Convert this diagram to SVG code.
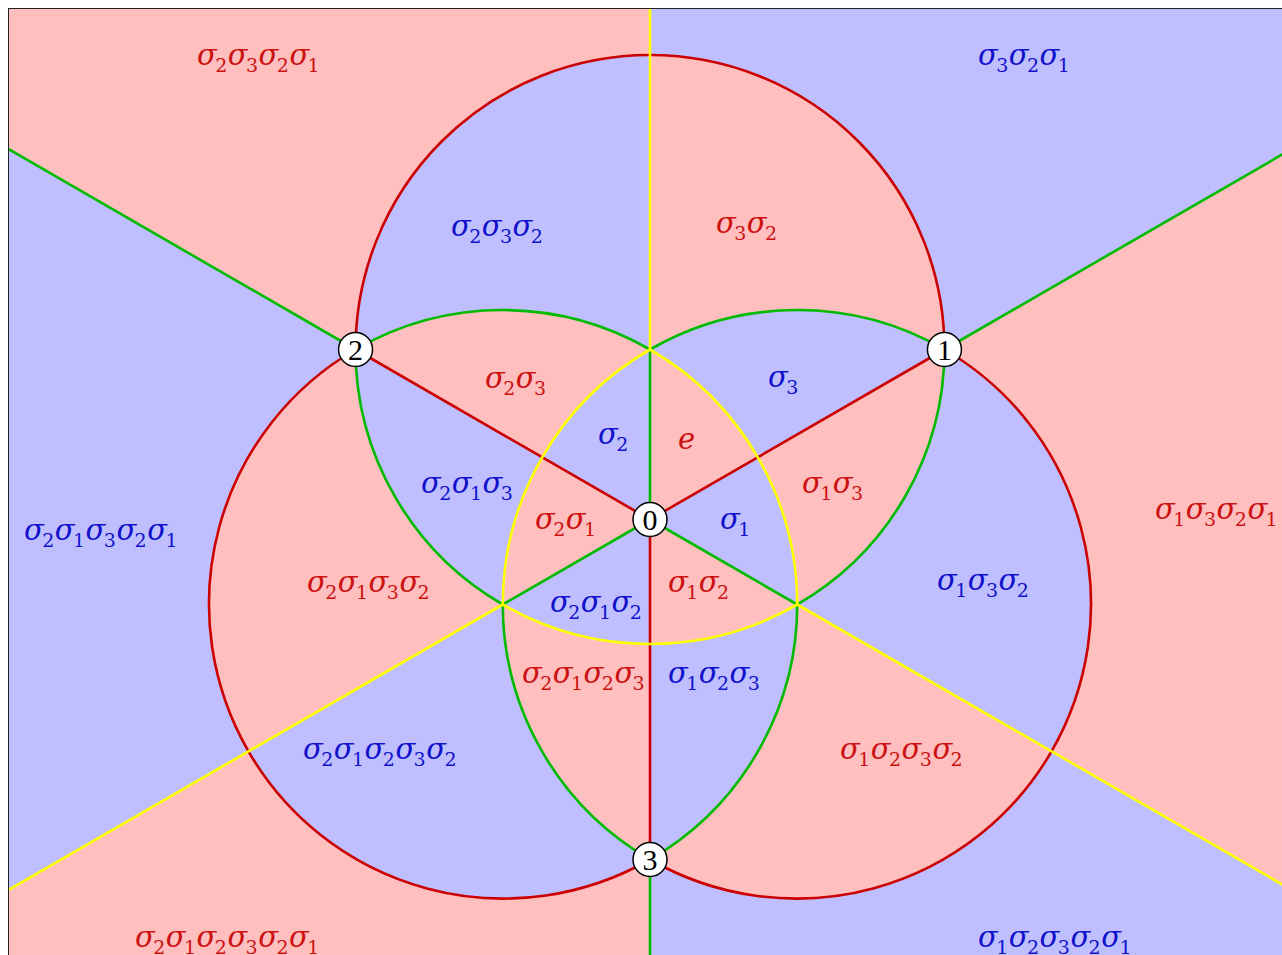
<svg xmlns="http://www.w3.org/2000/svg" width="1282" height="955" viewBox="0 0 1282 955">
<style>
.edge{fill:none;stroke-width:2.6;stroke-linecap:butt}
.red{stroke:#CC0000}.grn{stroke:#00BB00}.yel{stroke:#FFFF00}
.vc{fill:#FFFFFF;stroke:#000000;stroke-width:1.5}
.vt{font-family:"Liberation Serif",serif;font-size:30px;text-anchor:middle;fill:#000000}
.lr{fill:#CC1111}.lb{fill:#1111CC}
.lbl{font-family:"DejaVu Serif",serif;font-size:29px;font-style:italic}
.d{font-family:"DejaVu Serif",serif;font-size:19px;font-style:normal}
</style>
<defs>
<clipPath id="frame"><rect x="8" y="8.5" width="1280" height="950"/></clipPath>
</defs>
<rect x="0" y="0" width="1282" height="955" fill="#FFFFFF"/>
<g id="regions" clip-path="url(#frame)">
<rect x="0" y="0" width="1300" height="1000" fill="#BFBFFF"/>
<path fill="#FFBFBF" fill-rule="evenodd" d="M355.55 349.5a294.45 294.45 0 1 0 588.9 0a294.45 294.45 0 1 0 -588.9 0Z M208.33 604.5a294.45 294.45 0 1 0 588.9 0a294.45 294.45 0 1 0 -588.9 0Z M502.77 604.5a294.45 294.45 0 1 0 588.9 0a294.45 294.45 0 1 0 -588.9 0Z M2382 -480.5L3382 1251.5L-82 3251.5L-1082 1519.5Z M-1082 -480.5L2382 1519.5L1382 3251.5L-2082 1251.5Z M-100 -100L650 -100L650 1100L-100 1100Z"/>
</g>
<g id="connectors" clip-path="url(#frame)">
<path class="edge red" d="M355.55 349.5A294.45 294.45 0 0 1 944.45 349.5"/>
<path class="edge red" d="M650 859.5A294.45 294.45 0 0 1 355.55 349.5"/>
<path class="edge red" d="M944.45 349.5A294.45 294.45 0 0 1 650 859.5"/>
<path class="edge red" d="M650 519.5L944.45 349.5M650 519.5L355.55 349.5M650 519.5L650 859.5"/>
<path class="edge grn" d="M944.45 349.5A294.45 294.45 0 0 1 797.22 604.5"/>
<path class="edge grn" d="M502.78 604.5A294.45 294.45 0 0 1 355.55 349.5"/>
<path class="edge grn" d="M355.55 349.5A294.45 294.45 0 0 1 650 349.5"/>
<path class="edge grn" d="M797.22 604.5A294.45 294.45 0 0 1 650 859.5"/>
<path class="edge grn" d="M650 349.5A294.45 294.45 0 0 1 944.45 349.5"/>
<path class="edge grn" d="M650 859.5A294.45 294.45 0 0 1 502.78 604.5"/>
<path class="edge grn" d="M650 349.5L650 519.5M650 859.5L650 960M944.45 349.5L1330 126.9M355.55 349.5L-30 126.9M650 519.5L502.78 604.5M650 519.5L797.22 604.5"/>
<path class="edge yel" d="M797.22 604.5A294.45 294.45 0 0 1 502.78 604.5"/>
<path class="edge yel" d="M650 349.5A294.45 294.45 0 0 1 797.22 604.5"/>
<path class="edge yel" d="M502.78 604.5A294.45 294.45 0 0 1 650 349.5"/>
<path class="edge yel" d="M650 8L650 349.5M502.78 604.5L-50 923.7M797.22 604.5L1330 912.1"/>
</g>
<rect x="8.5" y="8.5" width="1300" height="1000" fill="none" stroke="#222222" stroke-width="1"/>
<g id="labels" class="lbl">
<text class="lr"><tspan x="197" y="65">σ</tspan><tspan class="d" x="215.2" y="71.5">2</tspan><tspan x="227.8" y="65">σ</tspan><tspan class="d" x="246" y="71.5">3</tspan><tspan x="258.6" y="65">σ</tspan><tspan class="d" x="276.8" y="71.5">2</tspan><tspan x="289.4" y="65">σ</tspan><tspan class="d" x="307.6" y="71.5">1</tspan></text>
<text class="lb"><tspan x="978" y="65">σ</tspan><tspan class="d" x="996.2" y="71.5">3</tspan><tspan x="1008.8" y="65">σ</tspan><tspan class="d" x="1027" y="71.5">2</tspan><tspan x="1039.6" y="65">σ</tspan><tspan class="d" x="1057.8" y="71.5">1</tspan></text>
<text class="lb"><tspan x="451" y="236">σ</tspan><tspan class="d" x="469.2" y="242.5">2</tspan><tspan x="481.8" y="236">σ</tspan><tspan class="d" x="500" y="242.5">3</tspan><tspan x="512.6" y="236">σ</tspan><tspan class="d" x="530.8" y="242.5">2</tspan></text>
<text class="lr"><tspan x="716" y="233">σ</tspan><tspan class="d" x="734.2" y="239.5">3</tspan><tspan x="746.8" y="233">σ</tspan><tspan class="d" x="765" y="239.5">2</tspan></text>
<text class="lr"><tspan x="485" y="388">σ</tspan><tspan class="d" x="503.2" y="394.5">2</tspan><tspan x="515.8" y="388">σ</tspan><tspan class="d" x="534" y="394.5">3</tspan></text>
<text class="lb"><tspan x="768" y="387">σ</tspan><tspan class="d" x="786.2" y="393.5">3</tspan></text>
<text class="lb"><tspan x="598" y="444">σ</tspan><tspan class="d" x="616.2" y="450.5">2</tspan></text>
<text class="lr" x="678" y="449">e</text>
<text class="lb"><tspan x="421" y="493">σ</tspan><tspan class="d" x="439.2" y="499.5">2</tspan><tspan x="451.8" y="493">σ</tspan><tspan class="d" x="470" y="499.5">1</tspan><tspan x="482.6" y="493">σ</tspan><tspan class="d" x="500.8" y="499.5">3</tspan></text>
<text class="lr"><tspan x="802" y="493">σ</tspan><tspan class="d" x="820.2" y="499.5">1</tspan><tspan x="832.8" y="493">σ</tspan><tspan class="d" x="851" y="499.5">3</tspan></text>
<text class="lr"><tspan x="535" y="529">σ</tspan><tspan class="d" x="553.2" y="535.5">2</tspan><tspan x="565.8" y="529">σ</tspan><tspan class="d" x="584" y="535.5">1</tspan></text>
<text class="lb"><tspan x="720" y="529">σ</tspan><tspan class="d" x="738.2" y="535.5">1</tspan></text>
<text class="lb"><tspan x="24" y="540">σ</tspan><tspan class="d" x="42.2" y="546.5">2</tspan><tspan x="54.8" y="540">σ</tspan><tspan class="d" x="73" y="546.5">1</tspan><tspan x="85.6" y="540">σ</tspan><tspan class="d" x="103.8" y="546.5">3</tspan><tspan x="116.4" y="540">σ</tspan><tspan class="d" x="134.6" y="546.5">2</tspan><tspan x="147.2" y="540">σ</tspan><tspan class="d" x="165.4" y="546.5">1</tspan></text>
<text class="lr"><tspan x="1155" y="519">σ</tspan><tspan class="d" x="1173.2" y="525.5">1</tspan><tspan x="1185.8" y="519">σ</tspan><tspan class="d" x="1204" y="525.5">3</tspan><tspan x="1216.6" y="519">σ</tspan><tspan class="d" x="1234.8" y="525.5">2</tspan><tspan x="1247.4" y="519">σ</tspan><tspan class="d" x="1265.6" y="525.5">1</tspan></text>
<text class="lr"><tspan x="307" y="592">σ</tspan><tspan class="d" x="325.2" y="598.5">2</tspan><tspan x="337.8" y="592">σ</tspan><tspan class="d" x="356" y="598.5">1</tspan><tspan x="368.6" y="592">σ</tspan><tspan class="d" x="386.8" y="598.5">3</tspan><tspan x="399.4" y="592">σ</tspan><tspan class="d" x="417.6" y="598.5">2</tspan></text>
<text class="lr"><tspan x="668" y="592">σ</tspan><tspan class="d" x="686.2" y="598.5">1</tspan><tspan x="698.8" y="592">σ</tspan><tspan class="d" x="717" y="598.5">2</tspan></text>
<text class="lb"><tspan x="937" y="590">σ</tspan><tspan class="d" x="955.2" y="596.5">1</tspan><tspan x="967.8" y="590">σ</tspan><tspan class="d" x="986" y="596.5">3</tspan><tspan x="998.6" y="590">σ</tspan><tspan class="d" x="1016.8" y="596.5">2</tspan></text>
<text class="lb"><tspan x="550" y="612">σ</tspan><tspan class="d" x="568.2" y="618.5">2</tspan><tspan x="580.8" y="612">σ</tspan><tspan class="d" x="599" y="618.5">1</tspan><tspan x="611.6" y="612">σ</tspan><tspan class="d" x="629.8" y="618.5">2</tspan></text>
<text class="lr"><tspan x="522" y="683">σ</tspan><tspan class="d" x="540.2" y="689.5">2</tspan><tspan x="552.8" y="683">σ</tspan><tspan class="d" x="571" y="689.5">1</tspan><tspan x="583.6" y="683">σ</tspan><tspan class="d" x="601.8" y="689.5">2</tspan><tspan x="614.4" y="683">σ</tspan><tspan class="d" x="632.6" y="689.5">3</tspan></text>
<text class="lb"><tspan x="668" y="683">σ</tspan><tspan class="d" x="686.2" y="689.5">1</tspan><tspan x="698.8" y="683">σ</tspan><tspan class="d" x="717" y="689.5">2</tspan><tspan x="729.6" y="683">σ</tspan><tspan class="d" x="747.8" y="689.5">3</tspan></text>
<text class="lb"><tspan x="303" y="759">σ</tspan><tspan class="d" x="321.2" y="765.5">2</tspan><tspan x="333.8" y="759">σ</tspan><tspan class="d" x="352" y="765.5">1</tspan><tspan x="364.6" y="759">σ</tspan><tspan class="d" x="382.8" y="765.5">2</tspan><tspan x="395.4" y="759">σ</tspan><tspan class="d" x="413.6" y="765.5">3</tspan><tspan x="426.2" y="759">σ</tspan><tspan class="d" x="444.4" y="765.5">2</tspan></text>
<text class="lr"><tspan x="840" y="759">σ</tspan><tspan class="d" x="858.2" y="765.5">1</tspan><tspan x="870.8" y="759">σ</tspan><tspan class="d" x="889" y="765.5">2</tspan><tspan x="901.6" y="759">σ</tspan><tspan class="d" x="919.8" y="765.5">3</tspan><tspan x="932.4" y="759">σ</tspan><tspan class="d" x="950.6" y="765.5">2</tspan></text>
<text class="lr"><tspan x="135" y="947">σ</tspan><tspan class="d" x="153.2" y="953.5">2</tspan><tspan x="165.8" y="947">σ</tspan><tspan class="d" x="184" y="953.5">1</tspan><tspan x="196.6" y="947">σ</tspan><tspan class="d" x="214.8" y="953.5">2</tspan><tspan x="227.4" y="947">σ</tspan><tspan class="d" x="245.6" y="953.5">3</tspan><tspan x="258.2" y="947">σ</tspan><tspan class="d" x="276.4" y="953.5">2</tspan><tspan x="289" y="947">σ</tspan><tspan class="d" x="307.2" y="953.5">1</tspan></text>
<text class="lb"><tspan x="978" y="947">σ</tspan><tspan class="d" x="996.2" y="953.5">1</tspan><tspan x="1008.8" y="947">σ</tspan><tspan class="d" x="1027" y="953.5">2</tspan><tspan x="1039.6" y="947">σ</tspan><tspan class="d" x="1057.8" y="953.5">3</tspan><tspan x="1070.4" y="947">σ</tspan><tspan class="d" x="1088.6" y="953.5">2</tspan><tspan x="1101.2" y="947">σ</tspan><tspan class="d" x="1119.4" y="953.5">1</tspan></text>
</g>
<g id="node0"><circle class="vc" cx="650" cy="519.5" r="17"/><text class="vt" x="650" y="530">0</text></g>
<g id="node1"><circle class="vc" cx="944.45" cy="349.5" r="17"/><text class="vt" x="944.45" y="360">1</text></g>
<g id="node2"><circle class="vc" cx="355.55" cy="349.5" r="17"/><text class="vt" x="355.55" y="360">2</text></g>
<g id="node3"><circle class="vc" cx="650" cy="859.5" r="17"/><text class="vt" x="650" y="870">3</text></g>
</svg>
